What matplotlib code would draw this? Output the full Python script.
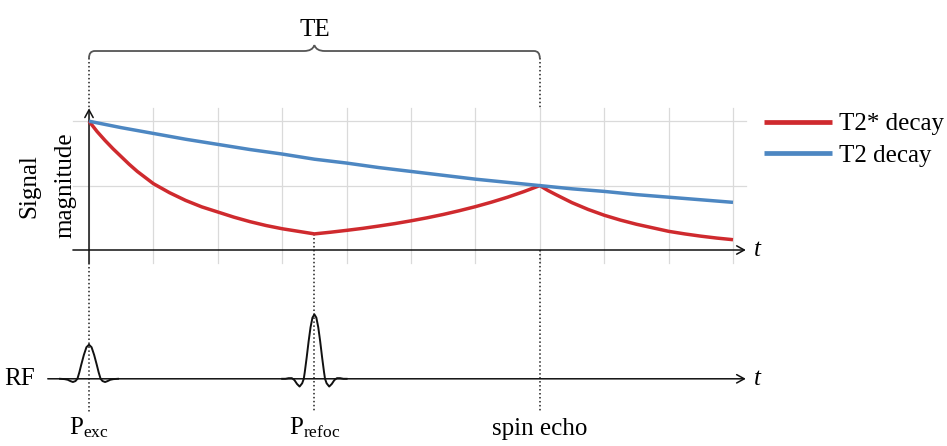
import matplotlib
matplotlib.use("Agg")
import matplotlib.pyplot as plt
from matplotlib.path import Path
from matplotlib.patches import PathPatch

plt.rcParams['font.family'] = ['Liberation Serif', 'DejaVu Serif']
plt.rcParams['mathtext.fontset'] = 'custom'
plt.rcParams['mathtext.rm'] = 'Liberation Serif'
plt.rcParams['mathtext.it'] = 'Liberation Serif:italic'

# ---------------- data ----------------
t_red = [0, 0.125, 0.25, 0.375, 0.5, 0.625, 0.75, 1.0, 1.25, 1.5, 1.75, 2.0, 2.25, 2.5, 2.75, 3.0, 3.25, 3.5,
         3.75, 4.0, 4.25, 4.5, 4.75, 5.0, 5.25, 5.5, 5.75, 6.0, 6.25, 6.5, 6.75, 7.0,
         7.125, 7.25, 7.5, 7.75, 8.0, 8.25, 8.5, 8.75, 9.0, 9.25, 9.5, 9.75, 10.0]
t2star_vals = [2.00, 1.84, 1.70, 1.57, 1.45, 1.33, 1.22, 1.03, 0.89, 0.77, 0.67, 0.59, 0.51, 0.44, 0.38, 0.33, 0.29, 0.25,
               0.276, 0.305, 0.336, 0.372, 0.41, 0.453, 0.50, 0.552, 0.61, 0.673, 0.743, 0.82, 0.906, 1.00,
               0.925, 0.86, 0.735, 0.63, 0.54, 0.465, 0.40, 0.345, 0.29, 0.25, 0.215, 0.185, 0.16]
t_blue = [0, 0.5, 1.0, 1.5, 2.0, 2.5, 3.0, 3.5, 4.0, 4.5, 5.0, 5.5, 6.0, 6.5, 7.0,
          7.5, 8.0, 8.5, 9.0, 9.5, 10.0]
t2_vals = [2.00, 1.90, 1.81, 1.72, 1.64, 1.56, 1.49, 1.41, 1.35, 1.28, 1.22, 1.16, 1.10, 1.05, 1.00,
           0.95, 0.91, 0.86, 0.82, 0.78, 0.74]

# RF pulse shapes (offset from pulse centre, amplitude)
exc_dt = [-0.45, -0.38, -0.33, -0.29, -0.25, -0.21, -0.18, -0.15, -0.12, -0.08, -0.04, 0,
          0.04, 0.08, 0.12, 0.15, 0.18, 0.21, 0.25, 0.29, 0.33, 0.38, 0.45]
exc_amp = [0.0, -0.005, -0.015, -0.035, -0.05, -0.035, 0.0, 0.10, 0.22, 0.37, 0.49, 0.53,
           0.49, 0.37, 0.22, 0.10, 0.0, -0.035, -0.05, -0.035, -0.015, -0.005, 0.0]
ref_dt = [-0.5, -0.45, -0.40, -0.35, -0.31, -0.27, -0.23, -0.19, -0.165, -0.15, -0.12, -0.09, -0.06, -0.03, 0,
          0.03, 0.06, 0.09, 0.12, 0.15, 0.165, 0.19, 0.23, 0.27, 0.31, 0.35, 0.40, 0.45, 0.5]
ref_amp = [0.0, 0.0, 0.01, 0.01, -0.02, -0.08, -0.12, -0.07, 0.0, 0.10, 0.33, 0.58, 0.80, 0.95, 1.00,
           0.95, 0.80, 0.58, 0.33, 0.10, 0.0, -0.07, -0.12, -0.08, -0.02, 0.01, 0.01, 0.0, 0.0]

t_exc, t_refoc, t_echo = 0.0, 3.5, 7.0
event_labels = [r'P$_\mathrm{exc}$', r'P$_\mathrm{refoc}$', 'spin echo']
legend_labels = ['T2* decay', 'T2 decay']
x_ticks = list(range(0, 11))
y_ticks = [1, 2]

RED = '#cf2a2e'
BLUE = '#4d87c2'
FS = 18

# ---------------- figure ----------------
W, H = 947, 446
fig = plt.figure(figsize=(W / 100, H / 100), dpi=100)
ax = fig.add_axes([0, 0, 1, 1])
u = 64.4
x0px, y0px = 89, 250
ax.set_xlim(-x0px / u, (W - x0px) / u)
ax.set_ylim(-(H - y0px) / u, y0px / u)
ax.axis('off')

# grid
for xv in x_ticks:
    ax.plot([xv, xv], [-0.2, 2.2], color='#dadada', lw=0.9, zorder=1)
for yv in y_ticks:
    ax.plot([-0.25, 10.2], [yv, yv], color='#dadada', lw=0.9, zorder=1)

# dotted guide lines
dot = dict(color='#222222', lw=1.1, linestyle=(0, (1, 1.6)), zorder=2)
ax.plot([t_exc, t_exc], [2.98, 2.2], **dot)
ax.plot([t_exc, t_exc], [-0.2, -2.52], **dot)
ax.plot([t_echo, t_echo], [2.98, 2.2], **dot)
ax.plot([t_echo, t_echo], [0.0, -2.52], **dot)
ax.plot([t_refoc, t_refoc], [0.25, -2.52], **dot)

# axes with arrows
arr = dict(arrowstyle='->,head_length=0.55,head_width=0.3', lw=1.1, color='#111111',
           shrinkA=0, shrinkB=0)
ax.annotate('', xy=(10.2, 0), xytext=(-0.25, 0), arrowprops=arr, zorder=3)
ax.annotate('', xy=(0, 2.2), xytext=(0, -0.2), arrowprops=arr, zorder=3)
ax.annotate('', xy=(10.2, -2), xytext=(-0.64, -2), arrowprops=arr, zorder=3)
ax.text(10.33, 0, 't', fontsize=FS, fontstyle='italic', ha='left', va='center')
ax.text(10.33, -2, 't', fontsize=FS, fontstyle='italic', ha='left', va='center')

# curves
l1, = ax.plot(t_red, t2star_vals, color=RED, lw=2.5, zorder=4, solid_capstyle='butt',
              solid_joinstyle='round', label=legend_labels[0])
l2, = ax.plot(t_blue, t2_vals, color=BLUE, lw=2.5, zorder=4, solid_capstyle='butt',
              solid_joinstyle='round', label=legend_labels[1])

# RF pulses
ax.plot([t_exc + d for d in exc_dt], [-2 + a for a in exc_amp], color='#111111', lw=1.4, zorder=4)
ax.plot([t_refoc + d for d in ref_dt], [-2 + a for a in ref_amp], color='#111111', lw=1.4, zorder=4)

# brace for TE
bl, br, by, bb, tip = t_exc, t_echo, 3.09, 2.98, 3.18
verts = [(bl, bb), (bl, by), (bl + 0.09, by),
         (t_refoc - 0.16, by),
         (t_refoc - 0.03, by), (t_refoc, tip),
         (t_refoc + 0.03, by), (t_refoc + 0.16, by),
         (br - 0.09, by),
         (br, by), (br, bb)]
codes = [Path.MOVETO, Path.CURVE3, Path.CURVE3,
         Path.LINETO,
         Path.CURVE3, Path.CURVE3,
         Path.CURVE3, Path.CURVE3,
         Path.LINETO,
         Path.CURVE3, Path.CURVE3]
ax.add_patch(PathPatch(Path(verts, codes), facecolor='none', edgecolor='#555555', lw=1.3, zorder=3))
ax.text(t_refoc, 3.33, 'TE', fontsize=FS, ha='center', va='baseline')

# labels
ax.text(-0.92, 1.0, 'Signal', fontsize=FS, rotation=90, ha='center', va='center')
ax.text(-0.37, 1.0, 'magnitude', fontsize=FS, rotation=90, ha='center', va='center')
ax.text(-0.84, -2, 'RF', fontsize=FS, ha='right', va='center')
for xv, lab in zip([t_exc, t_refoc, t_echo], event_labels):
    ax.text(xv, -2.87, lab, fontsize=FS, ha='center', va='baseline')

# legend
leg = ax.legend(handles=[l1, l2], loc='upper left', bbox_to_anchor=(10.485, 2.13),
                bbox_transform=ax.transData, frameon=False, fontsize=FS,
                handlelength=2.7, handletextpad=0.28, labelspacing=0.35, borderpad=0,
                borderaxespad=0)
for h in leg.get_lines():
    h.set_linewidth(3.4)

fig.savefig('out.png', dpi=100)
